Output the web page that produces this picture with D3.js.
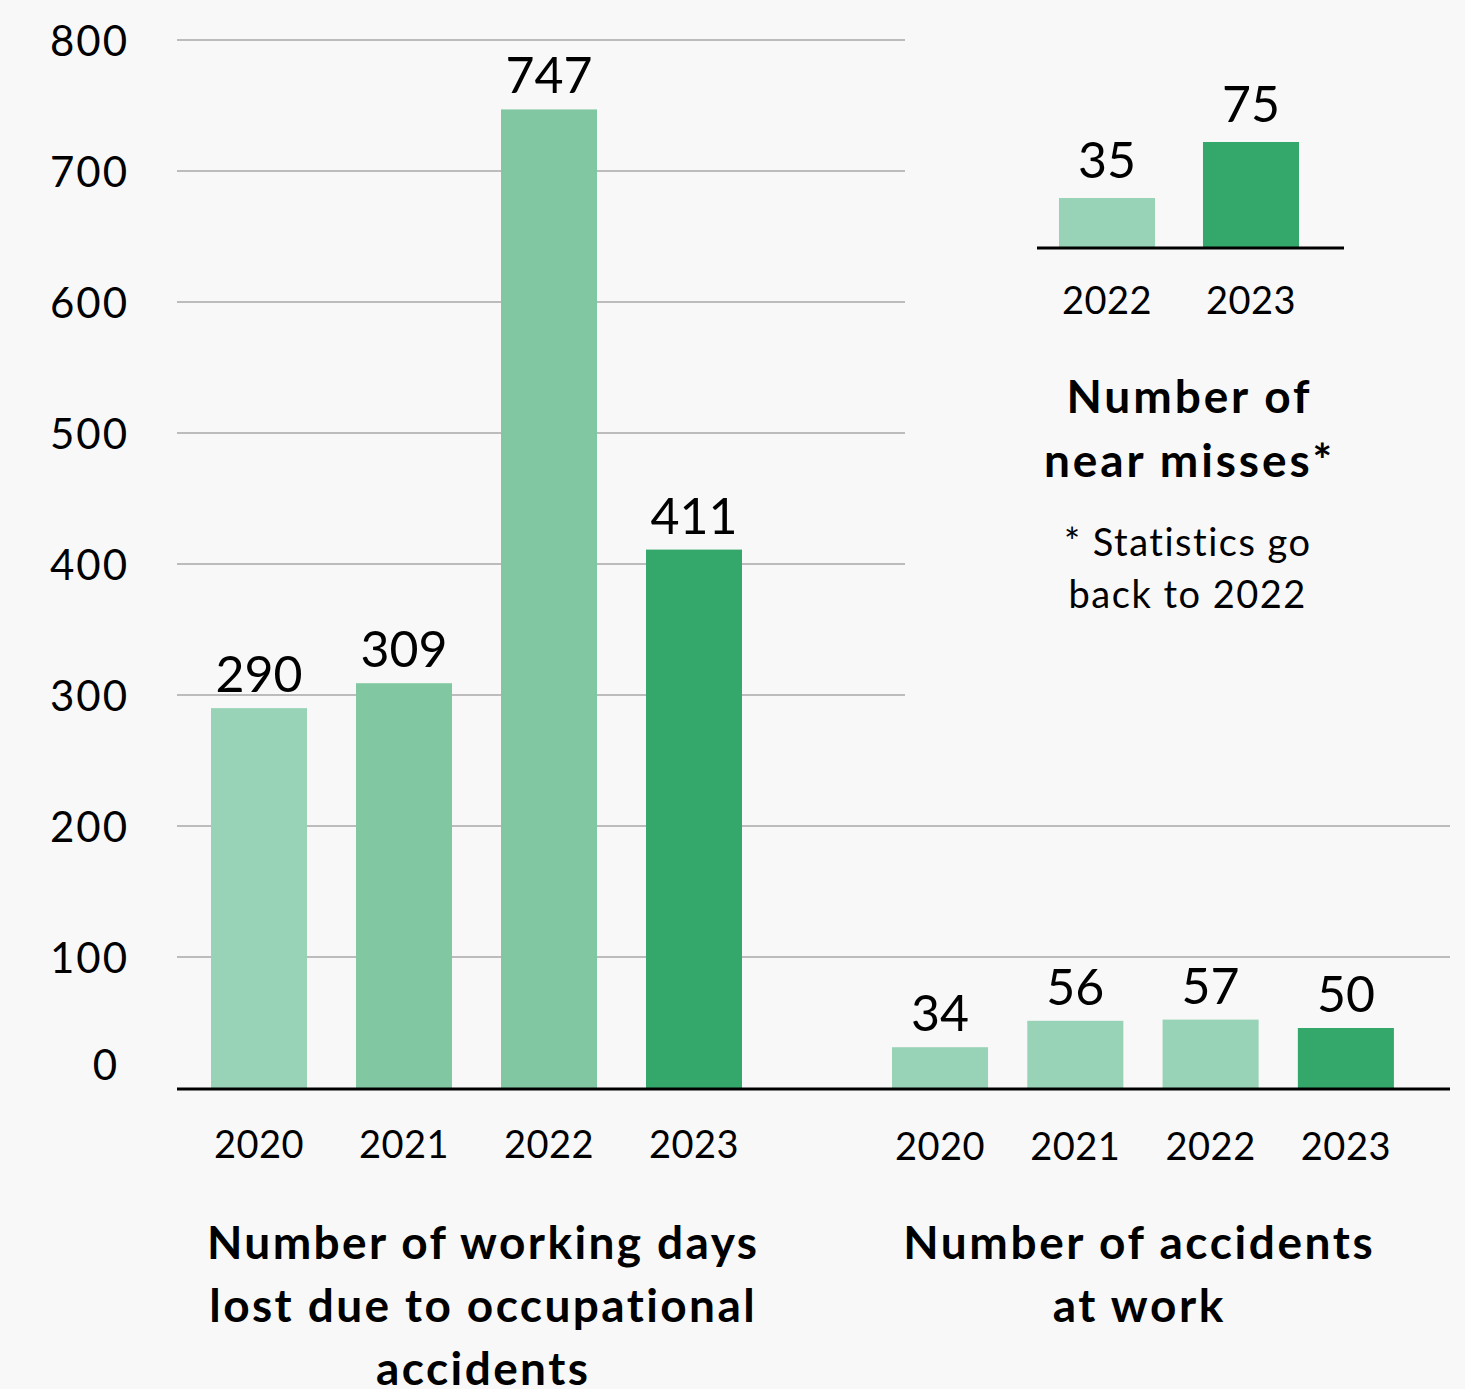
<!DOCTYPE html>
<html>
<head>
<meta charset="utf-8">
<script src="https://cdn.jsdelivr.net/npm/d3@7/dist/d3.min.js"></script>
<style>
  html, body { margin: 0; padding: 0; background: #f8f8f8; }
  svg { display: block; font-family: Lato, "Open Sans", sans-serif; }
</style>
</head>
<body>
<svg id="chart" width="1465" height="1389"></svg>
<script>
// ---- data ----
const daysYears = ["2020", "2021", "2022", "2023"];
const daysLost = [290, 309, 747, 411];
const accYears = ["2020", "2021", "2022", "2023"];
const accidents = [34, 56, 57, 50];
const nearYears = ["2022", "2023"];
const nearMisses = [35, 75];
const yTicks = [0, 100, 200, 300, 400, 500, 600, 700, 800];
const wideGridTicks = [100, 200];
const daysColors = ["#99d3b7", "#81c8a2", "#81c8a2", "#34a86b"];
const accColors = ["#99d3b7", "#99d3b7", "#99d3b7", "#34a86b"];
const nearColors = ["#99d3b7", "#34a86b"];
const titleDays = ["Number of working days", "lost due to occupational", "accidents"];
const titleAcc = ["Number of accidents", "at work"];
const titleNear = ["Number of", "near misses*"];
const footNear = ["* Statistics go", "back to 2022"];

const svg = d3.select("#chart");
const baseY = 1088;

// ---- scales ----
const y = d3.scaleLinear().domain([0, 800]).range([baseY, 40]);
const yAcc = d3.scaleLinear().domain([0, 100]).range([baseY, baseY - 120]);
const yNear = d3.scaleLinear().domain([0, 100]).range([247, 247 - 140]);

const xDays = d3.scaleBand().domain(daysYears).range([167.5, 785.5]).paddingInner(0.338).paddingOuter(0.3);
const xAcc = d3.scaleBand().domain(accYears).range([851.4, 1434.5]).paddingInner(0.29).paddingOuter(0.3);
const xNear = d3.scaleBand().domain(nearYears).range([1015.8, 1342.2]).paddingInner(0.333).paddingOuter(0.3);

// ---- gridlines ----
const grid = svg.append("g");
grid.selectAll("line").data(yTicks.filter(t => t > 0)).join("line")
  .attr("x1", 177)
  .attr("x2", d => wideGridTicks.includes(d) ? 1450 : 905)
  .attr("y1", d => y(d)).attr("y2", d => y(d))
  .attr("stroke", "#bcbcbc").attr("stroke-width", 2);

// ---- y axis labels ----
const yAxis = d3.axisLeft(y).tickValues(yTicks).tickSize(0).tickPadding(0);
const ya = svg.append("g").attr("transform", "translate(129,0)").call(yAxis);
ya.select(".domain").remove();
ya.selectAll("text")
  .attr("font-size", 42).attr("font-family", "Lato, sans-serif")
  .attr("letter-spacing", 2).attr("fill", "#000")
  .attr("dy", "0.36em")
  .attr("transform", d => d === 0 ? "translate(-10,-24)" : null);

// ---- bars helper ----
function bars(xs, ys, data, keys, colors, gap) {
  const g = svg.append("g");
  g.selectAll("rect").data(data).join("rect")
    .attr("x", (d, i) => xs(keys[i]))
    .attr("width", xs.bandwidth())
    .attr("y", d => ys(d))
    .attr("height", d => ys(0) - ys(d))
    .attr("fill", (d, i) => colors[i]);
  g.selectAll("text").data(data).join("text")
    .attr("x", (d, i) => xs(keys[i]) + xs.bandwidth() / 2)
    .attr("y", d => ys(d) - gap)
    .attr("text-anchor", "middle")
    .attr("font-size", 50).attr("fill", "#000")
    .text(d => d);
}
bars(xDays, y, daysLost, daysYears, daysColors, 16);
bars(xAcc, yAcc, accidents, accYears, accColors, 16);
bars(xNear, yNear, nearMisses, nearYears, nearColors, 20);

// ---- baselines ----
svg.append("line").attr("x1", 177).attr("x2", 1450).attr("y1", baseY + 1).attr("y2", baseY + 1)
  .attr("stroke", "#000").attr("stroke-width", 3);
svg.append("line").attr("x1", 1037).attr("x2", 1344).attr("y1", 248).attr("y2", 248)
  .attr("stroke", "#000").attr("stroke-width", 3);

// ---- x axis labels ----
function xLabels(xs, keys, yPos) {
  const ax = d3.axisBottom(xs).tickSize(0).tickPadding(0);
  const g = svg.append("g").attr("transform", `translate(0,${yPos})`).call(ax);
  g.select(".domain").remove();
  g.selectAll("text").attr("font-size", 38).attr("font-family", "Lato, sans-serif")
    .attr("letter-spacing", 0.5)
    .attr("fill", "#000").attr("dy", 0).attr("y", 0);
}
xLabels(xDays, daysYears, 1158);
xLabels(xAcc, accYears, 1160);
xLabels(xNear, nearYears, 314);

// ---- titles ----
function block(lines, cx, y0, lh, size, weight, ls) {
  svg.append("g").selectAll("text").data(lines).join("text")
    .attr("x", cx + ls / 2).attr("y", (d, i) => y0 + i * lh)
    .attr("text-anchor", "middle").attr("font-size", size)
    .attr("letter-spacing", ls)
    .attr("font-weight", weight).attr("fill", "#000").text(d => d);
}
block(titleDays, 482, 1259, 63, 46, 700, 2.4);
block(titleAcc, 1138, 1259, 63, 46, 700, 2.6);
block(titleNear, 1188, 413, 64, 46, 700, 2.9);
block(footNear, 1187, 556, 52, 38, 400, 1.5);
</script>
</body>
</html>
